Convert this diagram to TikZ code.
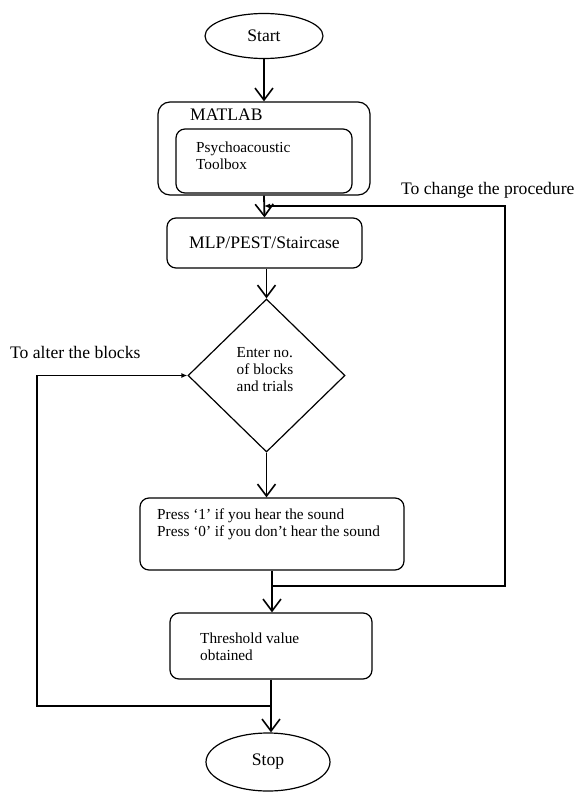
\documentclass[tikz,border=0pt]{standalone}
\usepackage{fontspec}
\setmainfont{Liberation Serif}
\usetikzlibrary{shapes.geometric,arrows.meta}
\begin{document}
\begin{tikzpicture}[x=1pt,y=-1pt,
  box/.style={draw,rounded corners=9pt,line width=1.2pt,inner sep=0pt},
  oval/.style={draw,ellipse,line width=1.2pt,inner sep=0pt},
  big/.style={font=\fontsize{17.6}{20}\selectfont},
  small/.style={font=\fontsize{15.3}{17}\selectfont},
  txt/.style={inner sep=0pt,align=left},
  arr/.style={line width=1.8pt,-{Straight Barb[length=12pt,width=18pt,line width=1.6pt]}},
  ret/.style={line width=1.2pt,-{Latex[length=6pt,width=5pt]}},
]
\useasboundingbox (0,0) rectangle (579,792);
% nodes
\node[oval,big,minimum width=118,minimum height=45] (start) at (264,36) {Start};
\node[box,rounded corners=12pt,minimum width=212,minimum height=93] (outer) at (264,148.5) {};
\node[txt,big,anchor=west] (matlab) at (190,115) {MATLAB};
\node[box,minimum width=176,minimum height=64] (inner) at (264,161) {};
\node[txt,small,anchor=west] (psy) at (196,155.5) {\fontsize{15.3}{19}\selectfont Psychoacoustic\\Toolbox};
\node[box,big,minimum width=195,minimum height=50] (mlp) at (264.5,243) {MLP/PEST/Staircase};
\node[draw,diamond,line width=1.2pt,inner sep=0pt,minimum width=157,minimum height=153] (dia) at (266.5,375.5) {};
\node[txt,small] (dtxt) at (265,369.5) {Enter no.\\of blocks\\and trials};
\node[box,minimum width=264,minimum height=72] (press) at (272,534) {};
\node[txt,small,anchor=west] (ptxt) at (157,524.5) {Press ‘1’ if you hear the sound\\Press ‘0’ if you don’t hear the sound};
\node[box,minimum width=202,minimum height=66] (thr) at (271,646) {};
\node[txt,small,anchor=west] (ttxt) at (200,646.5) {Threshold value\\obtained};
\node[oval,big,minimum width=124,minimum height=58] (stop) at (268,762) {Stop};
\node[txt,big,anchor=west] (lchange) at (401,190) {To change the procedure};
\node[txt,big,anchor=west] (lalter) at (10,352) {To alter the blocks};
% junctions
\coordinate (j1) at (264,206);
\coordinate (j2) at (272,586);
\coordinate (j3) at (271,706);
\coordinate (rc) at (505,0);
\coordinate (lc) at (37,0);
% main arrows
\draw[arr] (start.south) -- (outer.north);
\draw[arr] (outer.south) -- (mlp.north);
\draw[arr] (mlp.south -| dia.north) -- (dia.north);
\draw[arr] (dia.south) -- (dia.south |- press.north);
\draw[arr] (press.south) -- (press.south |- thr.north);
\draw[arr] (thr.south) -- (thr.south |- stop.north);
% return loops
\draw[ret] (j2) -- (j2 -| rc) -- (rc |- j1) -- (j1);
\draw[ret] (j3) -- (j3 -| lc) -- (lc |- dia.west) -- (dia.west);
\end{tikzpicture}
\end{document}
